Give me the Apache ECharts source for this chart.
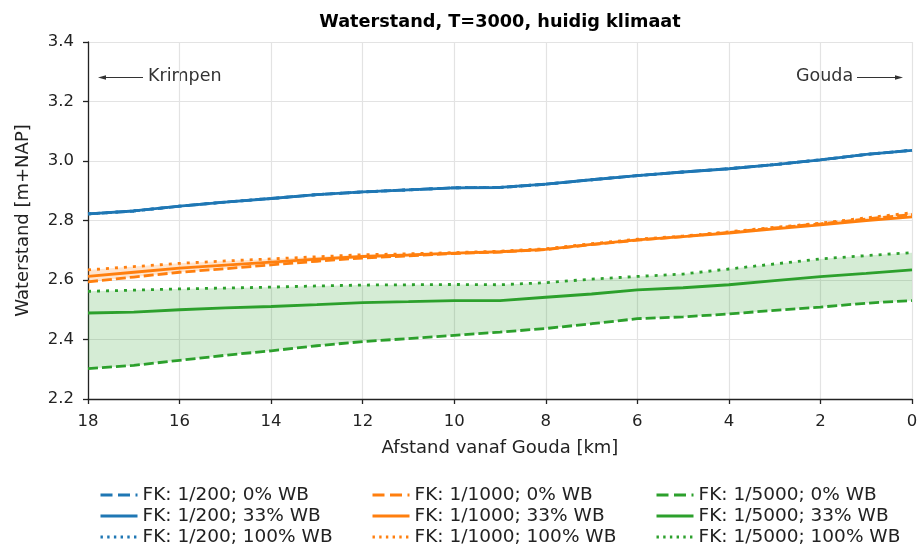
<!DOCTYPE html>
<html>
<head>
<meta charset="utf-8">
<script src="https://cdn.jsdelivr.net/npm/echarts@6/dist/echarts.min.js"></script>
<style>html,body{margin:0;padding:0;background:#fff;}#c{width:921px;height:545px;}</style>
</head>
<body>
<div id="c"></div>
<script>
const km = [18,17,16,15,14,13,12,11,10,9,8,7,6,5,4,3,2,1,0];
const xTicks = [18,16,14,12,10,8,6,4,2,0];
const yTicks = [2.2,2.4,2.6,2.8,3.0,3.2,3.4];

const blue0   = [2.822,2.832,2.848,2.862,2.874,2.887,2.896,2.903,2.910,2.911,2.922,2.937,2.951,2.963,2.974,2.988,3.004,3.022,3.036];
const blue33  = [2.822,2.832,2.848,2.862,2.874,2.887,2.896,2.903,2.910,2.911,2.922,2.937,2.951,2.963,2.974,2.988,3.004,3.022,3.036];
const blue100 = [2.822,2.832,2.848,2.862,2.874,2.887,2.896,2.903,2.910,2.911,2.922,2.937,2.951,2.963,2.974,2.988,3.004,3.022,3.036];

const orange0   = [2.594,2.610,2.626,2.638,2.651,2.663,2.674,2.681,2.689,2.694,2.702,2.719,2.734,2.746,2.760,2.775,2.789,2.805,2.820];
const orange33  = [2.612,2.626,2.640,2.650,2.660,2.670,2.679,2.684,2.690,2.695,2.703,2.720,2.735,2.746,2.758,2.772,2.785,2.800,2.812];
const orange100 = [2.634,2.645,2.656,2.664,2.671,2.678,2.685,2.688,2.692,2.697,2.705,2.722,2.737,2.748,2.762,2.777,2.791,2.809,2.826];

const green0   = [2.302,2.313,2.330,2.347,2.362,2.379,2.393,2.403,2.414,2.425,2.437,2.453,2.470,2.476,2.486,2.498,2.509,2.522,2.531];
const green33  = [2.489,2.492,2.500,2.506,2.511,2.517,2.524,2.527,2.531,2.531,2.542,2.553,2.567,2.574,2.584,2.598,2.611,2.622,2.634];
const green100 = [2.562,2.566,2.570,2.573,2.576,2.580,2.583,2.584,2.585,2.584,2.591,2.603,2.612,2.620,2.637,2.654,2.671,2.682,2.692];

const FONT = 'DejaVu Sans';
const C = {blue:'#1f77b4', orange:'#ff7f0e', green:'#2ca02c'};
const LW = 2.8;
const DASH = [10,4];
const DOT = [3,6];
const LEG_DASH = [12,5.5];
const LEG_DOT = [2.4,4.3];

function pairs(ys){ return km.map((x,i)=>[x, ys[i]]); }
function line(name, ys, color, type, z){
  return {
    name, type:'line', data: pairs(ys), symbol:'none', smooth:false, z:z,
    lineStyle:{color, width:LW, type:type, cap:'butt'},
    itemStyle:{color}, emphasis:{disabled:true}, animation:false
  };
}
function band(lo, hi, fill){
  return {
    type:'custom', silent:true, z:1, animation:false,
    data: km.map((x,i)=>[x, lo[i], hi[i]]),
    encode:{x:0, y:[1,2]},
    renderItem:function(params, api){
      if (params.dataIndex !== 0) return;
      const pts = [];
      for (let i=0;i<km.length;i++) pts.push(api.coord([km[i], hi[i]]));
      for (let i=km.length-1;i>=0;i--) pts.push(api.coord([km[i], lo[i]]));
      return {type:'polygon', shape:{points:pts}, style:{fill:fill, stroke:null}};
    }
  };
}

const names = {
  b0:'FK: 1/200; 0% WB', b33:'FK: 1/200; 33% WB', b100:'FK: 1/200; 100% WB',
  o0:'FK: 1/1000; 0% WB', o33:'FK: 1/1000; 33% WB', o100:'FK: 1/1000; 100% WB',
  g0:'FK: 1/5000; 0% WB', g33:'FK: 1/5000; 33% WB', g100:'FK: 1/5000; 100% WB'
};

function mkLegend(left, n0, n33, n100){
  return {
    left:left, top:484.5, height:90, orient:'vertical', itemWidth:37, itemHeight:14, itemGap:0,
    padding:0, selectedMode:false,
    data:[
      {name:n0, lineStyle:{type:LEG_DASH, width:3}},
      {name:n33, lineStyle:{type:'solid', width:3}},
      {name:n100, lineStyle:{type:LEG_DOT, width:3}}
    ],
    itemStyle:{opacity:0},
    lineStyle:{width:3},
    textStyle:{fontFamily:FONT, fontSize:18.5, lineHeight:21, color:'#222'}
  };
}

const chart = echarts.init(document.getElementById('c'), null, {renderer:'canvas'});
chart.setOption({
  animation:false,
  backgroundColor:'#fff',
  title:{
    text:'Waterstand, T=3000, huidig klimaat', left:495, top:8, textAlign:'center',
    textStyle:{fontFamily:FONT, fontSize:17.7, fontWeight:'bold', color:'#000'}
  },
  grid:{left:88, right:9, top:42, bottom:146, containLabel:false},
  xAxis:{
    type:'value', inverse:true, min:0, max:18, interval:2,
    name:'Afstand vanaf Gouda [km]', nameLocation:'middle', nameGap:40,
    nameTextStyle:{fontFamily:FONT, fontSize:18, color:'#222'},
    axisLine:{onZero:false, lineStyle:{color:'#222', width:1.3}},
    axisTick:{show:true, inside:false, length:5, lineStyle:{color:'#222', width:1.3}},
    axisLabel:{fontFamily:FONT, fontSize:16.5, color:'#222', margin:14,
      formatter:v=> xTicks.includes(v) ? String(v) : ''},
    splitLine:{show:true, lineStyle:{color:'#e3e3e3', width:1.2}}
  },
  yAxis:{
    type:'value', min:2.2, max:3.4, interval:0.2,
    name:'Waterstand [m+NAP]', nameLocation:'middle', nameGap:56,
    nameTextStyle:{fontFamily:FONT, fontSize:18, color:'#222'},
    axisLine:{show:true, onZero:false, lineStyle:{color:'#222', width:1.3}},
    axisTick:{show:true, inside:false, length:5, lineStyle:{color:'#222', width:1.3}},
    axisLabel:{fontFamily:FONT, fontSize:16.5, color:'#222', margin:14,
      formatter:v=> v.toFixed(1)},
    splitLine:{show:true, lineStyle:{color:'#e3e3e3', width:1.2}}
  },
  legend:[
    mkLegend(99, names.b0, names.b33, names.b100),
    mkLegend(371, names.o0, names.o33, names.o100),
    mkLegend(655, names.g0, names.g33, names.g100)
  ],
  graphic:[
    {type:'line', shape:{x1:100,y1:77.5,x2:143,y2:77.5}, style:{stroke:'#333', lineWidth:1.2}},
    {type:'polygon', shape:{points:[[98,77.5],[106,75.3],[106,79.7]]}, style:{fill:'#333'}},
    {type:'text', left:148, top:67, style:{text:'Krimpen', font:'17.5px "DejaVu Sans"', fill:'#333'}},
    {type:'text', left:796, top:67, style:{text:'Gouda', font:'17.5px "DejaVu Sans"', fill:'#333'}},
    {type:'line', shape:{x1:857,y1:77.5,x2:901,y2:77.5}, style:{stroke:'#333', lineWidth:1.2}},
    {type:'polygon', shape:{points:[[903,77.5],[895,75.3],[895,79.7]]}, style:{fill:'#333'}}
  ],
  series:[
    band(orange0, orange100, 'rgba(255,127,14,0.2)'),
    band(green0, green100, 'rgba(44,160,44,0.2)'),
    line(names.b0, blue0, C.blue, DASH, 3),
    line(names.b33, blue33, C.blue, 'solid', 3),
    line(names.b100, blue100, C.blue, DOT, 3),
    line(names.o0, orange0, C.orange, DASH, 3),
    line(names.o33, orange33, C.orange, 'solid', 3),
    line(names.o100, orange100, C.orange, DOT, 3),
    line(names.g0, green0, C.green, DASH, 3),
    line(names.g33, green33, C.green, 'solid', 3),
    line(names.g100, green100, C.green, DOT, 3)
  ]
});
</script>
</body>
</html>
